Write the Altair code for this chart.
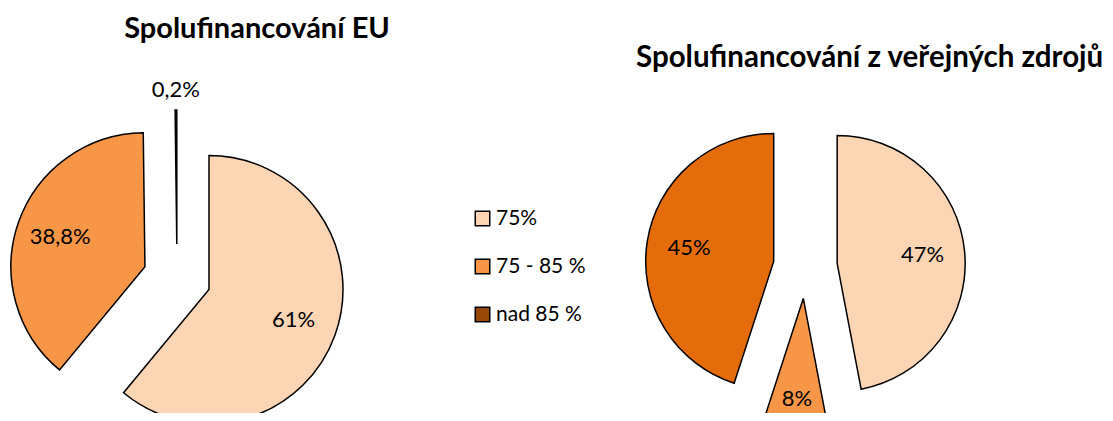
import altair as alt
import pandas as pd

# ---- data ----
categories = ["75%", "75 - 85 %", "nad 85 %"]
eu_values = [61, 38.8, 0.2]
eu_labels = ["61%", "38,8%", "0,2%"]
public_values = [47, 8, 45]
public_labels = ["47%", "8%", "45%"]

title_eu = "Spolufinancování EU"
title_public = "Spolufinancování z veřejných zdrojů"

# ---- styles / layout ----
eu_colors = ["#FCD5B5", "#F79646", "#974806"]
public_colors = ["#FCD5B5", "#F79646", "#E46C0A"]
FONT = "Lato"

eu_df = pd.DataFrame({"order": range(3), "category": categories,
                      "value": eu_values, "label": eu_labels})
pub_df = pd.DataFrame({"order": range(3), "category": categories,
                       "value": public_values, "label": public_labels})


def pie(df, cx, cy, r, d, colors, legend):
    base = (
        alt.Chart(df)
        .transform_window(cum="sum(value)", sort=[alt.SortField("order")], frame=[None, 0])
        .transform_joinaggregate(total="sum(value)")
        .transform_calculate(
            t0="2*PI*(datum.cum-datum.value)/datum.total",
            t1="2*PI*datum.cum/datum.total",
            share="datum.value/datum.total",
        )
        .transform_calculate(mid="(datum.t0+datum.t1)/2")
        .transform_calculate(
            px=f"{cx}+{d}*sin(datum.mid)",
            py=f"{cy}-{d}*cos(datum.mid)",
            lr=f"datum.share<0.01 ? {1.15*r} : (datum.share<0.1 ? {0.79*r} : {0.67*r})",
        )
        .transform_calculate(
            lx="datum.px+datum.lr*sin(datum.mid)",
            ly="datum.py-datum.lr*cos(datum.mid)",
        )
    )
    arcs = base.mark_arc(radius=r, stroke="black", strokeWidth=1.5).encode(
        theta=alt.Theta("t0:Q", scale=None),
        theta2=alt.Theta2("t1:Q"),
        x=alt.X("px:Q", scale=None, axis=None),
        y=alt.Y("py:Q", scale=None, axis=None),
        color=alt.Color("category:N", sort=categories,
                        scale=alt.Scale(domain=categories, range=colors),
                        legend=legend),
    )
    labels = base.mark_text(font=FONT, fontSize=22, color="black",
                            align="center", baseline="middle").encode(
        x=alt.X("lx:Q", scale=None, axis=None),
        y=alt.Y("ly:Q", scale=None, axis=None),
        text="label:N",
    )
    return arcs, labels


legend = alt.Legend(
    orient="none", legendX=464, legendY=200, title=None,
    symbolType="square", symbolSize=210, symbolStrokeColor="black",
    symbolStrokeWidth=1.5, symbolOpacity=1,
    labelFont=FONT, labelFontSize=21, labelColor="black",
    labelOffset=3, rowPadding=26,
)

eu_arcs, eu_text = pie(eu_df, 169, 270, 134, 34, eu_colors, legend)
pub_arcs, pub_text = pie(pub_df, 797.3, 258.5, 128, 32, public_colors, None)

one = alt.Data(values=[{}])
t_eu = alt.Chart(one).mark_text(font=FONT, fontSize=29, fontWeight="bold",
                                align="center", baseline="alphabetic", color="black").encode(
    x=alt.value(249), y=alt.value(30), text=alt.value(title_eu))
t_pub = alt.Chart(one).mark_text(font=FONT, fontSize=29.5, fontWeight="bold",
                                 align="left", baseline="alphabetic", color="black").encode(
    x=alt.value(628), y=alt.value(58.5), text=alt.value(title_public))

chart = (
    alt.layer(eu_arcs, pub_arcs, eu_text, pub_text, t_eu, t_pub)
    .resolve_scale(color="independent")
    .properties(width=1097, height=405, padding=0,
                view=alt.ViewBackground(strokeWidth=0, stroke="transparent"),
                autosize=alt.AutoSizeParams(type="none"))
    .configure_view(strokeWidth=0, stroke="transparent")
    .configure(background="white")
)

chart.save("out.html", embed_options={"renderer": "svg", "actions": False})
